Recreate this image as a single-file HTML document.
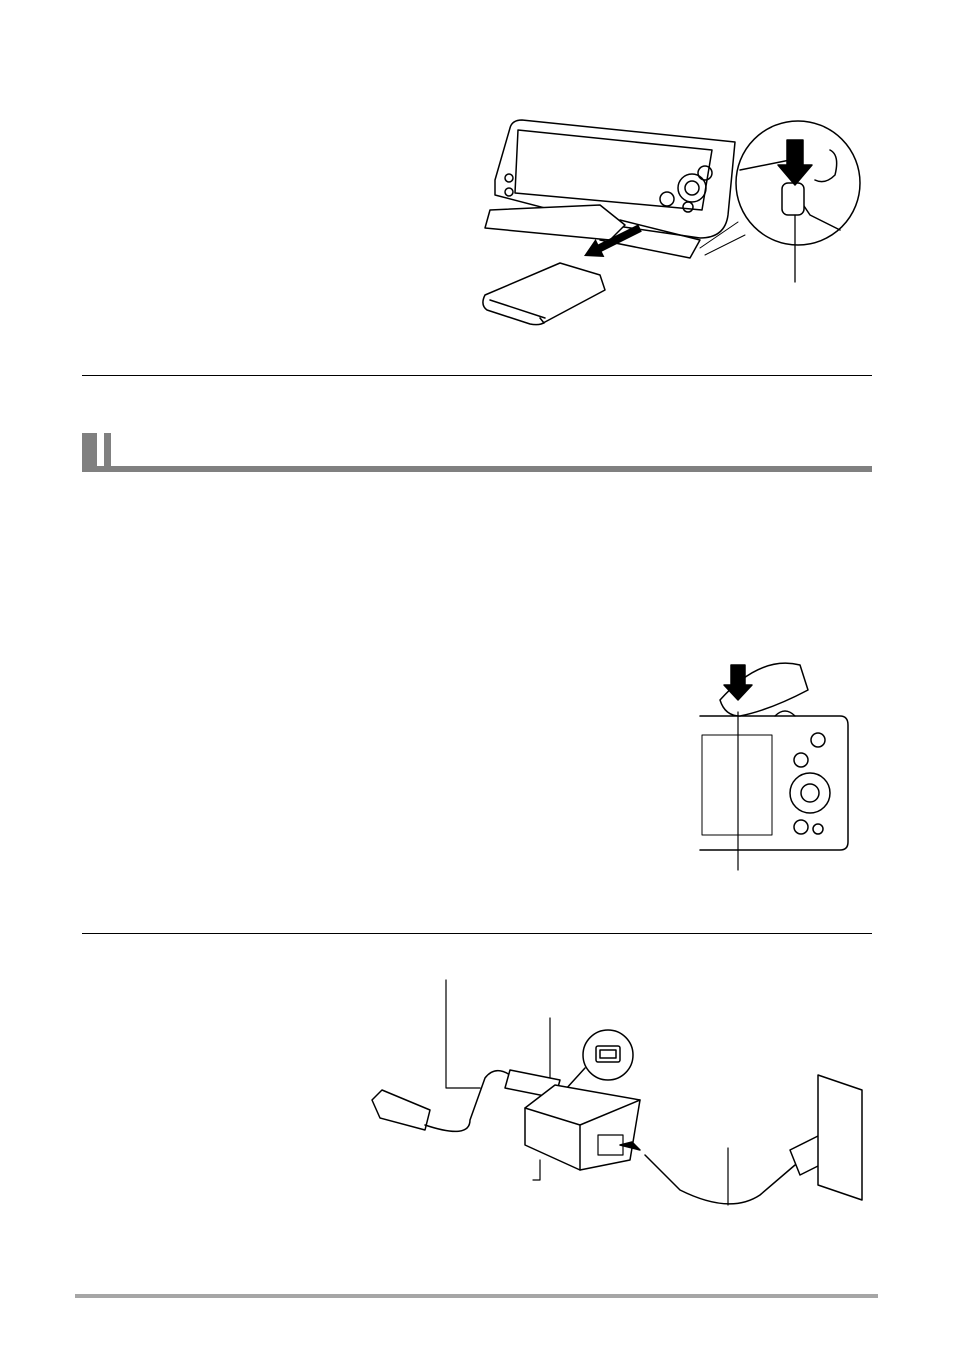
<!DOCTYPE html>
<html><head><meta charset="utf-8"><style>
html,body{margin:0;padding:0;background:#fff}
body{width:954px;height:1356px;position:relative;overflow:hidden;font-family:"Liberation Sans",sans-serif}
.abs{position:absolute}
</style></head><body>
<div class="abs" style="left:82px;top:375px;width:790px;height:1px;background:#000"></div>
<div class="abs" style="left:82px;top:433px;width:15px;height:39px;background:#808080"></div>
<div class="abs" style="left:104px;top:433px;width:7px;height:39px;background:#808080"></div>
<div class="abs" style="left:82px;top:466px;width:790px;height:6px;background:#808080"></div>
<div class="abs" style="left:82px;top:933px;width:790px;height:1px;background:#000"></div>
<div class="abs" style="left:75px;top:1294px;width:803px;height:4px;background:#a6a6a6"></div>

<svg class="abs" style="left:0;top:0" width="954" height="1356" fill="none" stroke="#000" stroke-width="1.5" stroke-linejoin="round" stroke-linecap="round">
<!-- top camera -->
<path d="M495 180 L510 128 Q512 120 522 120 L735 142 L728 215 Q725 238 700 238 L610 225 L495 195 Z" fill="#fff"/>
<path d="M518 130 L712 150 L702 210 L515 193 Z" fill="#fff"/>
<circle cx="705" cy="173" r="7"/><circle cx="692" cy="188" r="14"/><circle cx="692" cy="188" r="7"/>
<circle cx="667" cy="199" r="7"/><circle cx="688" cy="207" r="5"/><circle cx="509" cy="178" r="4"/><circle cx="509" cy="192" r="4"/>
<path d="M485 228 L490 210 L600 205 L625 225 L610 240 L485 228 Z" fill="#fff"/>
<path d="M620 220 L700 240 L690 258 L600 240"/>
<polygon points="638.2,224.4 598.2,244.4 595.6,239 584,256 604.4,257 601.8,251.6 641.8,231.6" fill="#000" stroke="none"/>
<path d="M485 295 L560 263 L600 275 L605 290 L545 322 Q540 326 530 324 L487 310 Q480 305 485 295 Z" fill="#fff"/>
<path d="M490 300 L545 318 M540 318 L544 323"/>
<circle cx="798" cy="183" r="62" fill="#fff"/>
<path d="M740 170 L790 160 L800 200 L810 215 L840 230 M830 150 Q840 155 835 175 Q825 185 815 180"/>
<rect x="782" y="183" width="22" height="32" rx="6" fill="#fff"/>
<path d="M787 140 L803 140 L803 165 L812 165 L795 185 L778 165 L787 165 Z" fill="#000"/>
<path d="M795 215 L795 282" stroke-width="1.3"/>
<path d="M738 222 L700 248 M745 235 L705 255" stroke-width="1"/>

<!-- second camera -->
<path d="M700 716 L840 716 Q848 716 848 725 L848 842 Q848 850 840 850 L700 850" fill="#fff"/>
<rect x="702" y="735" width="70" height="100" stroke-width="1"/>
<circle cx="810" cy="793" r="20"/><circle cx="810" cy="793" r="9"/>
<circle cx="818" cy="740" r="7"/><circle cx="801" cy="760" r="7"/><circle cx="801" cy="827" r="7"/><circle cx="818" cy="829" r="5"/>
<path d="M775 716 Q785 706 795 716"/>
<path d="M720 700 Q760 655 800 665 L808 690 Q770 710 740 716 Q725 716 720 700 Z" fill="#fff"/>
<path d="M731 665 L745 665 L745 685 L752 685 L738 700 L724 685 L731 685 Z" fill="#000"/>
<path d="M738 712 L738 870" stroke-width="1.2"/>

<!-- charger -->
<path d="M446 980 L446 1088 L480 1088" stroke-width="1.2"/>
<path d="M550 1018 L550 1090" stroke-width="1.2"/>
<path d="M372 1100 L382 1090 L430 1110 L425 1130 L380 1118 Z" fill="#fff"/>
<path d="M425 1125 Q470 1140 470 1120 L485 1078 Q495 1065 510 1075 L545 1095"/>
<path d="M510 1070 L560 1080 L555 1098 L505 1088 Z" fill="#fff"/>
<circle cx="608" cy="1055" r="25" fill="#fff"/>
<rect x="596" y="1046" width="24" height="16" rx="2"/><rect x="600" y="1050" width="16" height="8"/>
<path d="M585 1068 L565 1090"/>
<path d="M525 1108 L555 1085 L640 1100 L630 1160 L580 1170 L525 1145 Z" fill="#fff"/>
<path d="M525 1108 L580 1125 L640 1100 M580 1125 L580 1170"/>
<rect x="598" y="1135" width="25" height="20" stroke-width="1.2"/>
<path d="M640 1150 L620 1145 L632 1142 Z" fill="#000"/>
<path d="M645 1155 L680 1190 Q730 1215 760 1195 L795 1165"/>
<path d="M790 1150 L820 1135 L830 1160 L800 1175 Z" fill="#fff"/>
<path d="M818 1075 L862 1090 L862 1200 L818 1185 Z" fill="#fff"/>
<path d="M540 1160 L540 1180 L533 1180" stroke-width="1.2"/>
<path d="M728 1148 L728 1205" stroke-width="1.2"/>
</svg>
</body></html>
